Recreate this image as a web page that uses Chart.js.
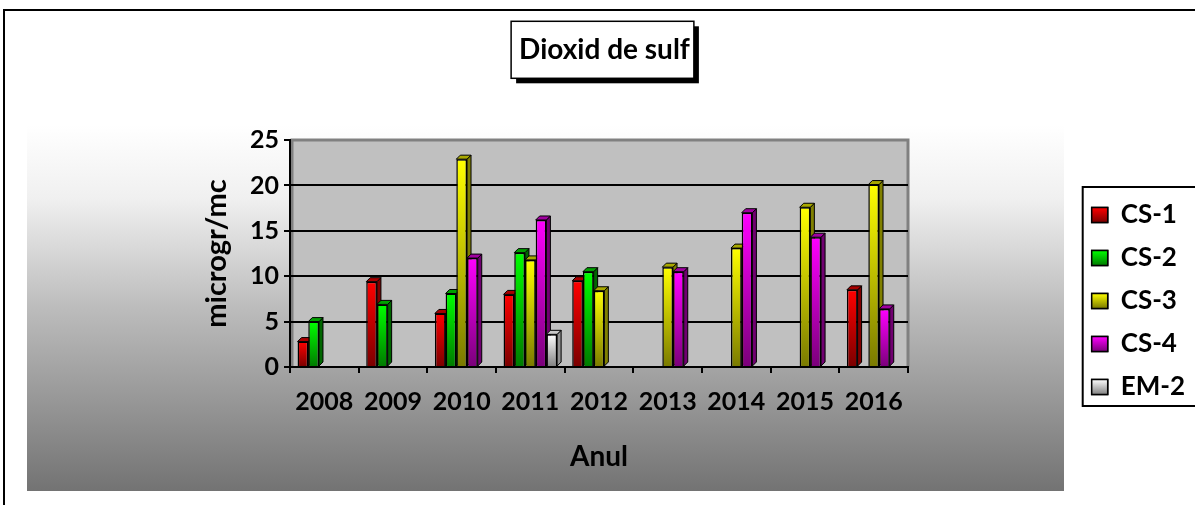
<!DOCTYPE html>
<html>
<head>
<meta charset="utf-8">
<script src="https://cdn.jsdelivr.net/npm/chart.js@4.4.1/dist/chart.umd.min.js"></script>
<style>
  html, body { margin: 0; padding: 0; background: #fff; }
  canvas { display: block; }
</style>
</head>
<body>
<canvas id="chart" width="1195" height="505"></canvas>
<script>
// valori (microgr/mc)
const years = ['2008', '2009', '2010', '2011', '2012', '2013', '2014', '2015', '2016'];
const cs1 = [2.8, 9.4, 5.9, 8.0, 9.5, null, null, null, 8.5];
const cs2 = [5.0, 6.9, 8.1, 12.6, 10.5, null, null, null, null];
const cs3 = [null, null, 22.9, 11.8, 8.4, 11.0, 13.1, 17.6, 20.1];
const cs4 = [null, null, 12.0, 16.2, null, 10.5, 17.0, 14.3, 6.4];
const em2 = [null, null, null, 3.6, null, null, null, null, null];
const seriesNames = ['CS-1', 'CS-2', 'CS-3', 'CS-4', 'EM-2'];
const yMin = 0;
const yMax = 25;
const yStep = 5;

// culori: fata (sus -> jos), latura, capac
const FACES = [
  { light: '#ff0000', dark: '#7a0000', side: '#800000', top: '#a80000' },
  { light: '#00ff00', dark: '#007a00', side: '#006600', top: '#00a000' },
  { light: '#ffff00', dark: '#7a7a00', side: '#808000', top: '#a8a800' },
  { light: '#ff00ff', dark: '#7a007a', side: '#700070', top: '#a000a0' },
  { light: '#ffffff', dark: '#808080', side: '#909090', top: '#c8c8c8' }
];
const DEPTH = 4;
const FONT = 'Lato, "Open Sans", sans-serif';
const PAD_L = 14, PAD_R = 0;

Chart.defaults.font.family = FONT;
Chart.defaults.color = '#000';

function frontFill(i) {
  return function (ctx) {
    const c = FACES[i];
    const chart = ctx.chart;
    if (ctx.type !== 'data' || !chart.chartArea || ctx.raw == null) return c.light;
    const ys = chart.scales.y;
    const top = ys.getPixelForValue(ctx.raw);
    const base = ys.getPixelForValue(0);
    if (!isFinite(top) || !isFinite(base) || top === base) return c.light;
    const g = chart.ctx.createLinearGradient(0, top, 0, base);
    g.addColorStop(0, c.light);
    g.addColorStop(1, c.dark);
    return g;
  };
}

const seriesData = [cs1, cs2, cs3, cs4, em2];

// fundal, perete, caseta titlului si a legendei
const backdrop = {
  id: 'backdrop',
  beforeDraw(chart) {
    const { ctx, chartArea: a, width, height } = chart;
    ctx.save();
    ctx.fillStyle = '#fff';
    ctx.fillRect(0, 0, width, height);

    ctx.strokeStyle = '#000';
    ctx.lineWidth = 2;
    ctx.strokeRect(4, 10, width + 20, height + 20);

    const px = a.left - 263, py = a.top - 15, pr = a.right + 156, pb = a.bottom + 124;
    const g = ctx.createLinearGradient(0, py, 0, pb);
    g.addColorStop(0, '#ffffff');
    g.addColorStop(0.2, '#f0f0f0');
    g.addColorStop(0.5, '#bcbcbc');
    g.addColorStop(1, '#737373');
    ctx.fillStyle = g;
    ctx.fillRect(px, py, pr - px, pb - py);

    ctx.fillStyle = '#c0c0c0';
    ctx.fillRect(a.left, a.top, a.right - a.left, a.bottom - a.top);
    ctx.strokeStyle = '#808080';
    ctx.lineWidth = 3;
    ctx.beginPath();
    ctx.moveTo(a.left + 2, a.bottom);
    ctx.lineTo(a.left + 2, a.top);
    ctx.lineTo(a.right, a.top);
    ctx.lineTo(a.right, a.bottom);
    ctx.stroke();

    // caseta titlului cu umbra
    const tb = chart.titleBlock;
    const topt = chart.options.plugins.title;
    const tf = Chart.helpers.toFont(topt.font);
    ctx.font = tf.string;
    const tw = ctx.measureText(topt.text).width;
    const cx = (tb.left + tb.right) / 2;
    const cy = tb.top + Chart.helpers.toPadding(topt.padding).top + tf.lineHeight / 2;
    const bl = cx - tw / 2 - 8, br = cx + tw / 2 + 4, bt = cy - 29, bb = cy + 28;
    ctx.fillStyle = '#000';
    ctx.fillRect(bl + 5, bt + 5, br - bl, bb - bt);
    ctx.fillStyle = '#fff';
    ctx.fillRect(bl, bt, br - bl, bb - bt);
    ctx.lineWidth = 1.5;
    ctx.strokeStyle = '#000';
    ctx.strokeRect(bl, bt, br - bl, bb - bt);

    // caseta legendei
    const hb = chart.legend.legendHitBoxes;
    if (hb && hb.length) {
      const first = hb[0], last = hb[hb.length - 1];
      const ll = first.left - 9, lt = first.top - 15;
      const lb = last.top + last.height + 6;
      ctx.fillStyle = '#fff';
      ctx.fillRect(ll, lt, width - ll + 10, lb - lt);
      ctx.lineWidth = 2;
      ctx.strokeRect(ll, lt, width - ll + 10, lb - lt);
    }
    ctx.restore();
  },
  afterDraw(chart) {
    // patratele legendei cu gradient
    const { ctx } = chart;
    const lopt = chart.options.plugins.legend.labels;
    const fs = Chart.helpers.toFont(lopt.font).size;
    const hb = chart.legend.legendHitBoxes || [];
    ctx.save();
    hb.forEach((h, i) => {
      const c = FACES[i];
      const x = h.left, y = h.top + Math.max((fs - lopt.boxHeight) / 2, 0);
      const g = ctx.createLinearGradient(0, y, 0, y + lopt.boxHeight);
      g.addColorStop(0, c.light);
      g.addColorStop(1, c.dark);
      ctx.fillStyle = g;
      ctx.fillRect(x, y, lopt.boxWidth, lopt.boxHeight);
      ctx.strokeStyle = '#000';
      ctx.lineWidth = 1.5;
      ctx.strokeRect(x, y, lopt.boxWidth, lopt.boxHeight);
    });
    ctx.restore();
  }
};

// efect 3D: latura si capacul fiecarei coloane
const depth = {
  id: 'depth',
  beforeDatasetsDraw(chart) {
    const ctx = chart.ctx;
    ctx.save();
    ctx.lineWidth = 1;
    ctx.strokeStyle = '#000';
    chart.data.datasets.forEach((ds, i) => {
      const meta = chart.getDatasetMeta(i);
      const c = FACES[i];
      meta.data.forEach((bar, j) => {
        if (ds.data[j] == null) return;
        const { x, y, base, width } = bar.getProps(['x', 'y', 'base', 'width'], true);
        const l = x - width / 2, r = x + width / 2;
        ctx.beginPath();
        ctx.moveTo(r, y);
        ctx.lineTo(r + DEPTH, y - DEPTH);
        ctx.lineTo(r + DEPTH, base - DEPTH);
        ctx.lineTo(r, base);
        ctx.closePath();
        ctx.fillStyle = c.side;
        ctx.fill();
        ctx.stroke();
        ctx.beginPath();
        ctx.moveTo(l, y);
        ctx.lineTo(l + DEPTH, y - DEPTH);
        ctx.lineTo(r + DEPTH, y - DEPTH);
        ctx.lineTo(r, y);
        ctx.closePath();
        ctx.fillStyle = c.top;
        ctx.fill();
        ctx.stroke();
      });
    });
    ctx.restore();
  }
};

const chart = new Chart(document.getElementById('chart'), {
  type: 'bar',
  data: {
    labels: years,
    datasets: seriesNames.map((name, i) => ({
      label: name,
      data: seriesData[i],
      backgroundColor: frontFill(i),
      borderColor: '#000',
      borderWidth: 1.5,
      categoryPercentage: 0.78,
      barPercentage: 1.0
    }))
  },
  options: {
    responsive: false,
    animation: false,
    devicePixelRatio: 1,
    layout: { padding: { left: PAD_L, right: PAD_R, top: 0, bottom: 0 } },
    plugins: {
      tooltip: { enabled: false },
      title: {
        display: true,
        text: 'Dioxid de sulf',
        color: '#000',
        font: { size: 28, weight: 'bold' },
        padding: { top: 33.5, bottom: 73 }
      },
      legend: {
        display: true,
        position: 'right',
        align: 'start',
        title: { display: true, text: '', font: { size: 10 }, padding: { top: 173, bottom: 0 } },
        labels: {
          color: '#000',
          font: { size: 26, weight: 'bold' },
          boxWidth: 16,
          boxHeight: 15,
          padding: 17
        }
      }
    },
    scales: {
      x: {
        grid: { display: true, drawOnChartArea: false, drawTicks: true, tickLength: 6, color: '#000', lineWidth: 2 },
        border: { display: true, color: '#000', width: 2 },
        ticks: { font: { size: 25, weight: 'bold' }, color: '#000', padding: 14, maxRotation: 0 },
        title: { display: true, text: 'Anul', color: '#000', font: { size: 28, weight: 'bold' }, padding: { top: 0, bottom: 31 } },
        afterFit(s) { s.height = 505 - 367; }
      },
      y: {
        min: yMin,
        max: yMax,
        ticks: { stepSize: yStep, font: { size: 25, weight: 'bold' }, color: '#000', padding: 5 },
        grid: {
          color: (c) => (c.tick && c.tick.value === yMax ? 'rgba(0,0,0,0)' : '#000'),
          tickColor: '#000',
          lineWidth: 2,
          tickLength: 6
        },
        border: { display: true, color: '#000', width: 2 },
        title: { display: true, text: 'microgr/mc', color: '#000', font: { size: 29, weight: 'bold' }, padding: { top: 185.5 } },
        afterFit(s) { s.width = 290 - PAD_L; }
      },
      yGap: {
        position: 'right',
        display: true,
        grid: { display: false },
        border: { display: false },
        ticks: { display: false },
        afterFit(s) { s.width = Math.max(0, s.chart.width - PAD_R - s.chart.legend.width - 908); }
      }
    }
  },
  plugins: [backdrop, depth]
});
</script>
</body>
</html>
